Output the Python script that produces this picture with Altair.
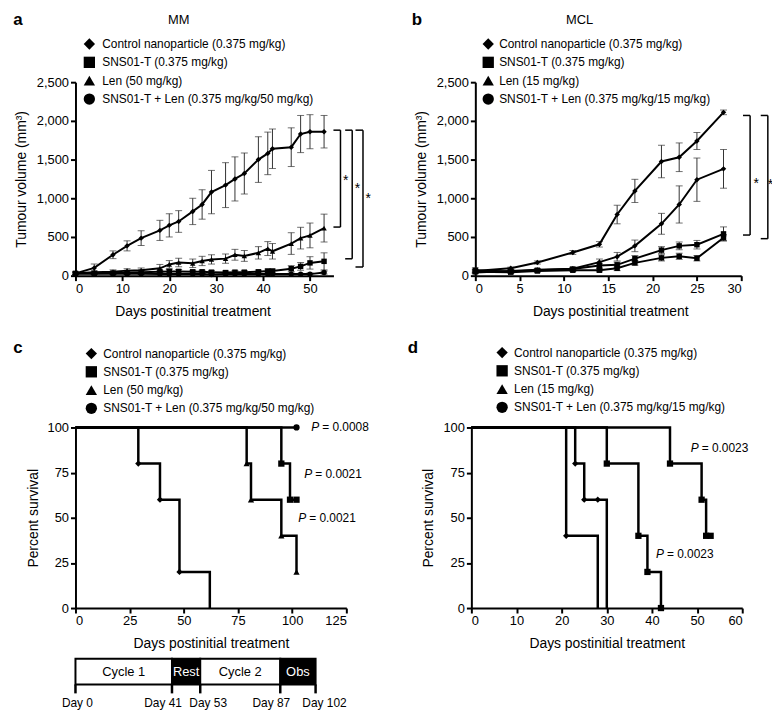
import altair as alt
import pandas as pd

FONT = "Liberation Sans"

# ---------------- data ----------------
mm_groups = ["Control nanoparticle (0.375 mg/kg)", "SNS01-T (0.375 mg/kg)",
             "Len (50 mg/kg)", "SNS01-T + Len (0.375 mg/kg/50 mg/kg)"]
mcl_groups = ["Control nanoparticle (0.375 mg/kg)", "SNS01-T (0.375 mg/kg)",
              "Len (15 mg/kg)", "SNS01-T + Len (0.375 mg/kg/15 mg/kg)"]
shapes = ["diamond", "square", "triangle-up", "circle"]

# panel a (MM tumour volume)
a_days = [0, 4, 8, 11, 14, 18, 20, 22, 25, 27, 29, 32, 34, 36, 39, 41, 42, 46, 48, 50, 53]
a_ctrl = [30, 100, 270, 385, 485, 585, 650, 700, 830, 920, 1080, 1170, 1250, 1320, 1500, 1580, 1640, 1660, 1830, 1860, 1860]
a_ctrl_err = [20, 50, 50, 65, 95, 130, 150, 140, 170, 190, 280, 290, 285, 265, 295, 275, 255, 250, 240, 220, 210]
a_sns = [30, 30, 35, 40, 45, 50, 55, 55, 50, 50, 45, 40, 45, 45, 50, 60, 60, 90, 120, 165, 185]
a_sns_err = [15, 15, 15, 20, 20, 20, 25, 25, 20, 20, 20, 20, 20, 20, 20, 25, 25, 40, 50, 80, 110]
a_len = [30, 45, 50, 65, 70, 95, 145, 170, 160, 190, 210, 220, 270, 255, 295, 350, 315, 415, 485, 520, 615]
a_len_err = [15, 20, 25, 25, 30, 50, 50, 55, 55, 60, 60, 60, 70, 70, 80, 90, 100, 140, 140, 160, 180]
a_combo = [25, 25, 25, 25, 25, 20, 20, 20, 20, 20, 15, 20, 20, 20, 20, 20, 20, 20, 20, 20, 40]
a_combo_err = [10, 10, 10, 10, 10, 10, 10, 10, 10, 10, 10, 10, 10, 10, 10, 10, 10, 10, 10, 15, 20]

# panel b (MCL tumour volume)
b_days = [0, 4, 7, 11, 14, 16, 18, 21, 23, 25, 28]
b_ctrl = [60, 95, 170, 300, 405, 790, 1095, 1475, 1530, 1740, 2110]
b_ctrl_err = [20, 15, 20, 25, 35, 120, 150, 210, 185, 110, 30]
b_sns = [70, 55, 70, 85, 130, 140, 220, 330, 385, 400, 540]
b_sns_err = [30, 15, 15, 20, 30, 35, 40, 45, 50, 55, 90]
b_len = [40, 60, 75, 90, 175, 245, 385, 670, 920, 1240, 1380]
b_len_err = [15, 15, 15, 20, 40, 55, 75, 135, 240, 280, 250]
b_combo = [50, 45, 60, 70, 70, 95, 165, 230, 250, 225, 490]
b_combo_err = [20, 15, 15, 15, 20, 30, 30, 40, 40, 35, 40]

# significance brackets (day units / mm3)
a_br_inner = [55.0, 57.5, 59.7]
a_br_outer = [56.5, 59.0, 61.3]
a_br_top = [1880, 1880, 1880]
a_br_bot = [628, 218, 112]
a_star_x = [57.6, 60.1, 62.4]
a_star_y = [1220, 1120, 985]

b_br_inner = [30.2, 32.2]
b_br_outer = [31.0, 33.0]
b_br_top = [2070, 2070]
b_br_bot = [525, 478]
b_star_x = [31.7, 33.3]
b_star_y = [1183, 1167]

# panel c (MM survival)
c_times = [[0, 29, 39, 48, 62], [0, 95, 99, 102], [0, 79, 81, 95, 102], [0, 102]]
c_surv = [[100, 80, 60, 20, 0], [100, 80, 60, 60], [100, 80, 60, 40, 20], [100, 100]]
c_mark = [[0, 1, 1, 1, 0], [0, 1, 1, 1], [0, 1, 1, 1, 1], [0, 1]]
c_p_text = ["= 0.0008", "= 0.0021", "= 0.0021"]
c_p_x = [108.8, 105.6, 102.8]
c_p_y = [100, 74, 50]

# panel d (MCL survival)
d_times = [[0, 21, 28], [0, 30, 37, 39, 42], [0, 23, 25, 28, 30], [0, 44, 51, 52, 53]]
d_surv = [[100, 40, 0], [100, 80, 40, 20, 0], [100, 80, 60, 60, 0], [100, 80, 60, 40, 40]]
d_mark = [[0, 1, 0], [0, 1, 1, 1, 1], [0, 1, 1, 1, 0], [0, 1, 1, 1, 1]]
d_p_text = ["= 0.0023", "= 0.0023"]
d_p_x = [48.6, 40.9]
d_p_y = [88.6, 29.7]

# treatment timeline
tl_days = [0, 41, 53, 87, 102]
tl_names = ["Cycle 1", "Rest", "Cycle 2", "Obs"]
tl_day_labels = ["Day 0", "Day 41", "Day 53", "Day 87", "Day 102"]

# ---------------- helpers ----------------
def text_at(s, x, y, size=13, weight="normal", align="center", baseline="middle", opacity=1):
    return alt.Chart(pd.DataFrame({"t": [s]})).mark_text(
        font=FONT, fontSize=size, fontWeight=weight, align=align, baseline=baseline,
        color="black", opacity=opacity
    ).encode(x=alt.value(x), y=alt.value(y), text="t:N")


def legend_layers(groups, sx, tx, y0, dy):
    out = []
    for i, (g, s) in enumerate(zip(groups, shapes)):
        d = pd.DataFrame({"t": [g]})
        out.append(alt.Chart(d).mark_point(shape=s, filled=True, color="black", opacity=1,
                                           size=130).encode(x=alt.value(sx), y=alt.value(y0 + i * dy)))
        out.append(alt.Chart(d).mark_text(font=FONT, fontSize=12, align="left", baseline="middle",
                                          color="black").encode(x=alt.value(tx), y=alt.value(y0 + i * dy), text="t:N"))
    return out


def tumour_panel(days, series, errs, groups, xmax, xvals, width, br, stars,
                 letter, lx, title, tx, leg_sx, leg_tx, xtitle_x):
    rows = []
    for g, vals, es in zip(groups, series, errs):
        for d, v, e in zip(days, vals, es):
            rows.append({"day": d, "value": v, "lo": max(v - e, 0), "hi": v + e, "group": g})
    df = pd.DataFrame(rows)
    xs = alt.Scale(domain=[0, xmax], nice=False, zero=False)
    ys = alt.Scale(domain=[0, 2500], nice=False)
    xa = alt.Axis(values=xvals, title="Days postinitial treatment", titlePadding=9, titleX=xtitle_x)
    ya = alt.Axis(values=[0, 500, 1000, 1500, 2000, 2500],
                  labelExpr="format(datum.value, ',')",
                  title="Tumour volume (mm³)", titlePadding=8)

    def X(f):
        return alt.X(f, type="quantitative", scale=xs, axis=xa)

    def Y(f):
        return alt.Y(f, type="quantitative", scale=ys, axis=ya)

    err = alt.Chart(df).mark_errorbar(ticks=True, size=7, thickness=1, color="#333").encode(
        x=X("day"), y=Y("lo"), y2="hi")
    line = alt.Chart(df).mark_line(color="black", strokeWidth=2).encode(
        x=X("day"), y=Y("value"), detail="group:N")
    pts = alt.Chart(df).mark_point(filled=True, color="black", opacity=1, size=30).encode(
        x=X("day"), y=Y("value"),
        shape=alt.Shape("group:N", scale=alt.Scale(domain=groups, range=shapes), legend=None))

    bdf = pd.DataFrame({"b1": br[0], "b2": br[1], "top": br[2], "bot": br[3]})
    vr = alt.Chart(bdf).mark_rule(color="black", strokeWidth=1.5).encode(x=X("b2"), y=Y("top"), y2="bot")
    tr = alt.Chart(bdf).mark_rule(color="black", strokeWidth=1.5).encode(x=X("b1"), x2="b2", y=Y("top"))
    brr = alt.Chart(bdf).mark_rule(color="black", strokeWidth=1.5).encode(x=X("b1"), x2="b2", y=Y("bot"))
    sdf = pd.DataFrame({"sx": stars[0], "sy": stars[1], "s": ["*"] * len(stars[0])})
    st = alt.Chart(sdf).mark_text(font=FONT, fontSize=14, color="black", baseline="middle").encode(
        x=X("sx"), y=Y("sy"), text="s:N")

    layers = [err, line, pts, vr, tr, brr, st,
              text_at(letter, lx, -58, size=17, weight="bold", baseline="alphabetic"),
              text_at(title, tx, -59, size=13, baseline="alphabetic")]
    layers += legend_layers(groups, leg_sx, leg_tx, -38.5, 18.5)
    return alt.layer(*layers).properties(width=width, height=195)


def survival_panel(times, survs, marks, groups, xmax, xstep, width, ptext, px, py,
                   letter, lx, leg_sx, leg_tx, leg_y0):
    rows = []
    for g, ts, ss, ms in zip(groups, times, survs, marks):
        for t, s, m in zip(ts, ss, ms):
            rows.append({"day": t, "value": s, "m": m, "group": g})
    df = pd.DataFrame(rows)
    xs = alt.Scale(domain=[0, xmax], nice=False, zero=False)
    ys = alt.Scale(domain=[0, 100], nice=False)
    xa = alt.Axis(values=list(range(0, xmax + 1, xstep)), title="Days postinitial treatment", titlePadding=9)
    ya = alt.Axis(values=[0, 25, 50, 75, 100], title="Percent survival", titlePadding=7)

    def X(f):
        return alt.X(f, type="quantitative", scale=xs, axis=xa)

    def Y(f):
        return alt.Y(f, type="quantitative", scale=ys, axis=ya)

    line = alt.Chart(df).mark_line(interpolate="step-after", color="black", strokeWidth=2.5).encode(
        x=X("day"), y=Y("value"), detail="group:N")
    pts = alt.Chart(df[df["m"] == 1]).mark_point(filled=True, color="black", opacity=1, size=40).encode(
        x=X("day"), y=Y("value"),
        shape=alt.Shape("group:N", scale=alt.Scale(domain=groups, range=shapes), legend=None))
    pdf = pd.DataFrame({"px": px, "py": py, "t": ptext, "p": ["P"] * len(px)})
    pl = alt.Chart(pdf).mark_text(font=FONT, fontSize=12, fontStyle="italic", align="left",
                                  baseline="middle", color="black").encode(x=X("px"), y=Y("py"), text="p:N")
    pr = alt.Chart(pdf).mark_text(font=FONT, fontSize=12, align="left", baseline="middle",
                                  color="black", dx=11).encode(x=X("px"), y=Y("py"), text="t:N")
    layers = [line, pts, pl, pr,
              text_at(letter, lx, -75, size=17, weight="bold", baseline="alphabetic")]
    layers += legend_layers(groups, leg_sx, leg_tx, leg_y0, 18.4)
    return alt.layer(*layers).properties(width=width, height=182)


# ---------------- panels ----------------
panel_a = tumour_panel(a_days, [a_ctrl, a_sns, a_len, a_combo],
                       [a_ctrl_err, a_sns_err, a_len_err, a_combo_err], mm_groups,
                       55, [0, 10, 20, 30, 40, 50], 260,
                       (a_br_inner, a_br_outer, a_br_top, a_br_bot), (a_star_x, a_star_y),
                       "a", -58, "MM", 104, 14, 27, 118)
panel_b = tumour_panel(b_days, [b_ctrl, b_sns, b_len, b_combo],
                       [b_ctrl_err, b_sns_err, b_len_err, b_combo_err], mcl_groups,
                       30, [0, 5, 10, 15, 20, 25, 30], 268,
                       (b_br_inner, b_br_outer, b_br_top, b_br_bot), (b_star_x, b_star_y),
                       "b", -59, "MCL", 105, 13, 24, 136)
panel_c = survival_panel(c_times, c_surv, c_mark, mm_groups, 125, 25, 273,
                         c_p_text, c_p_x, c_p_y, "c", -58, 16, 28, -74.5)
panel_d = survival_panel(d_times, d_surv, d_mark, mcl_groups, 60, 10, 273,
                         d_p_text, d_p_x, d_p_y, "d", -59, 31, 43, -75.5)

# ---------------- timeline ----------------
seg = pd.DataFrame({
    "start": tl_days[:-1], "end": tl_days[1:], "name": tl_names,
    "fill": ["white", "black", "white", "black"], "tc": ["black", "white", "black", "white"],
})
seg["mid"] = (seg["start"] + seg["end"]) / 2
tls = alt.Scale(domain=[0, 102], nice=False, zero=False)
rects = alt.Chart(seg).mark_rect(stroke="black", strokeWidth=2).encode(
    x=alt.X("start:Q", scale=tls, axis=None), x2="end:Q",
    y=alt.value(0), y2=alt.value(26), fill=alt.Fill("fill:N", scale=None))
names = alt.Chart(seg).mark_text(font=FONT, fontSize=13, baseline="middle").encode(
    x=alt.X("mid:Q", scale=tls, axis=None), y=alt.value(13), text="name:N",
    color=alt.Color("tc:N", scale=None))
tdf = pd.DataFrame({"day": tl_days, "lab": tl_day_labels})
tticks = alt.Chart(tdf).mark_rule(color="black", strokeWidth=2.5).encode(
    x=alt.X("day:Q", scale=tls, axis=None), y=alt.value(26), y2=alt.value(35))
label_dx = [2, -9, 8, -9, 9]
tlabels = []
for i, (dday, lab) in enumerate(zip(tl_days, tl_day_labels)):
    tlabels.append(alt.Chart(pd.DataFrame({"day": [dday], "lab": [lab]})).mark_text(
        font=FONT, fontSize=12, baseline="middle", color="black", dx=label_dx[i]).encode(
        x=alt.X("day:Q", scale=tls, axis=None), y=alt.value(45), text="lab:N"))
timeline = alt.layer(rects, names, tticks, *tlabels,
                     text_at("c", -55, 20, size=17, weight="bold", opacity=0)).properties(width=242, height=50)

row1 = alt.hconcat(panel_a, panel_b, spacing=40)
row2 = alt.hconcat(panel_c, panel_d, spacing=38)
bottom = alt.vconcat(row2, timeline, spacing=7)
chart = alt.vconcat(row1, bottom, spacing=21).properties(
    padding={"left": 5, "top": 0, "right": -2, "bottom": 0}
).configure_view(stroke=None).configure_axis(
    domainColor="black", domainWidth=2, tickColor="black", tickWidth=2, tickSize=5,
    labelFont=FONT, labelFontSize=13, labelColor="black", labelPadding=2,
    titleFont=FONT, titleFontSize=14, titleFontWeight="normal", titleColor="black", grid=False
)

chart.save("out.html", embed_options={"renderer": "svg", "actions": False})
